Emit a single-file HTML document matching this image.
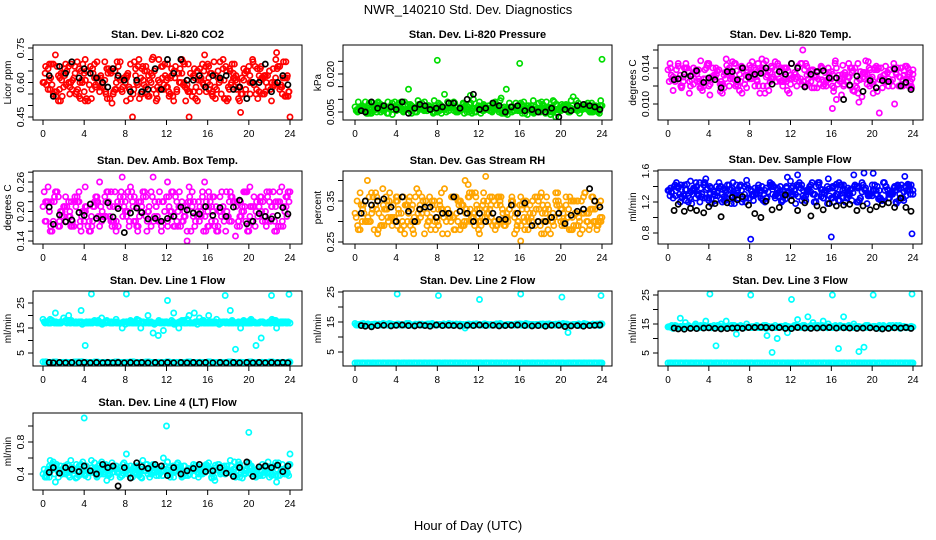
<!DOCTYPE html>
<html><head><meta charset="utf-8"><style>
body{margin:0;background:#fff;}
svg{display:block;font-family:"Liberation Sans",sans-serif;}
</style></head><body>
<svg id="chart" width="936" height="540" viewBox="0 0 936 540" xmlns="http://www.w3.org/2000/svg">
<text x="468" y="14" text-anchor="middle" font-size="13">NWR_140210  Std. Dev. Diagnostics</text>
<text x="468" y="530" text-anchor="middle" font-size="13">Hour of Day (UTC)</text>
</svg>
<script>
const hrsA=[0,0.5,1,1.5,2,2.5,3,3.5,4,4.5,5,5.5,6,6.5,7,7.5,8,8.5,9,9.5,10,10.5,11,11.5,12,12.5,13,13.5,14,14.5,15,15.5,16,16.5,17,17.5,18,18.5,19,19.5,20,20.5,21,21.5,22,22.5,23,23.5,24];
const hrsB=[0.2,0.7,1.2,1.7,2.2,2.7,3.2,3.7,4.1,4.7,5.2,5.7,6.2,6.7,7.2,7.7,8.1,8.7,9.2,9.7,10.2,10.7,11.2,11.7,12.1,12.7,13.2,13.7,14.2,14.7,15.2,15.7,16.1,16.7,17.2,17.7,18.2,18.7,19.2,19.7,20.1,20.7,21.2,21.7,22.2,22.7,23.2,23.7,23.9];
const hrsK=[0.6,1.0,1.6,2.2,2.8,3.5,4.0,4.6,5.2,5.8,6.3,6.8,7.3,7.9,8.5,9.1,9.6,10.2,10.9,11.5,12.1,12.7,13.4,14.0,14.6,15.2,15.8,16.5,17.2,17.8,18.5,19.1,19.8,20.4,21.0,21.6,22.2,22.8,23.3,23.8];

const co2A=[0.60,0.66,0.55,0.63,0.58,0.67,0.62,0.54,0.64,0.59,0.68,0.56,0.61,0.65,0.57,0.69,0.60,0.53,0.66,0.62,0.58,0.64,0.55,0.67,0.61,0.63,0.57,0.70,0.59,0.54,0.65,0.60,0.68,0.56,0.62,0.66,0.58,0.64,0.53,0.61,0.67,0.59,0.63,0.55,0.65,0.60,0.57,0.62,0.45];
const co2B=[0.64,0.57,0.72,0.52,0.68,0.60,0.55,0.65,0.70,0.53,0.62,0.58,0.66,0.51,0.69,0.56,0.63,0.44,0.59,0.67,0.54,0.71,0.61,0.57,0.68,0.52,0.64,0.60,0.44,0.66,0.56,0.72,0.62,0.58,0.69,0.53,0.65,0.61,0.47,0.57,0.63,0.55,0.67,0.60,0.52,0.73,0.58,0.62,0.56];
const co2K=[0.63,0.54,0.67,0.64,0.69,0.62,0.66,0.64,0.62,0.60,0.58,0.66,0.63,0.61,0.56,0.61,0.56,0.57,0.66,0.57,0.70,0.64,0.70,0.61,0.61,0.63,0.58,0.63,0.62,0.63,0.57,0.58,0.53,0.60,0.60,0.68,0.56,0.60,0.63,0.59];

const presA=[0.0070,0.0055,0.0060,0.0045,0.0080,0.0050,0.0065,0.0075,0.0055,0.0090,0.0060,0.0045,0.0070,0.0085,0.0055,0.0065,0.0254,0.0060,0.0090,0.0070,0.0050,0.0080,0.0060,0.0100,0.0075,0.0055,0.0065,0.0085,0.0050,0.0070,0.0060,0.0055,0.0242,0.0045,0.0065,0.0050,0.0060,0.0045,0.0040,0.0030,0.0055,0.0080,0.0065,0.0095,0.0060,0.0075,0.0050,0.0060,0.0258];
const presB=[0.0060,0.0075,0.0045,0.0085,0.0065,0.0055,0.0090,0.0060,0.0070,0.0050,0.0140,0.0065,0.0080,0.0055,0.0075,0.0095,0.0060,0.0120,0.0070,0.0085,0.0060,0.0075,0.0115,0.0065,0.0090,0.0070,0.0060,0.0080,0.0105,0.0140,0.0070,0.0060,0.0060,0.0075,0.0050,0.0065,0.0055,0.0070,0.0050,0.0045,0.0065,0.0075,0.0110,0.0085,0.0070,0.0065,0.0060,0.0055,0.0075];
const presK=[0.0055,0.0050,0.0090,0.0065,0.0075,0.0070,0.0060,0.0090,0.0045,0.0065,0.0080,0.0075,0.0060,0.0065,0.0070,0.0085,0.0085,0.0065,0.0100,0.0120,0.0060,0.0065,0.0085,0.0075,0.0050,0.0070,0.0075,0.0055,0.0060,0.0050,0.0050,0.0065,0.0030,0.0060,0.0055,0.0075,0.0080,0.0075,0.0070,0.0060];

const tempA=[0.0138,0.0130,0.0142,0.0125,0.0135,0.0140,0.0128,0.0120,0.0145,0.0132,0.0138,0.0118,0.0140,0.0127,0.0133,0.0122,0.0143,0.0130,0.0137,0.0112,0.0135,0.0147,0.0125,0.0140,0.0132,0.0128,0.0145,0.0120,0.0137,0.0130,0.0142,0.0125,0.0128,0.0105,0.0110,0.0125,0.0135,0.0118,0.0108,0.0122,0.0130,0.0114,0.0128,0.0135,0.0120,0.0140,0.0127,0.0133,0.0138];
const tempB=[0.0145,0.0125,0.0132,0.0140,0.0120,0.0136,0.0148,0.0128,0.0110,0.0140,0.0125,0.0150,0.0133,0.0122,0.0142,0.0118,0.0135,0.0127,0.0150,0.0120,0.0140,0.0133,0.0125,0.0115,0.0145,0.0130,0.0160,0.0122,0.0138,0.0128,0.0120,0.0140,0.0095,0.0132,0.0120,0.0145,0.0115,0.0102,0.0128,0.0140,0.0112,0.0090,0.0125,0.0138,0.0100,0.0130,0.0122,0.0135,0.0128];
const tempK=[0.0127,0.0128,0.0133,0.0131,0.0137,0.0124,0.0129,0.0127,0.0118,0.0136,0.0136,0.0127,0.0140,0.0130,0.0133,0.0134,0.0140,0.0122,0.0136,0.0133,0.0145,0.0140,0.0119,0.0133,0.0136,0.0137,0.0129,0.0129,0.0105,0.0121,0.0131,0.0114,0.0126,0.0118,0.0126,0.0125,0.0139,0.0120,0.0124,0.0116];

const ambA=[0.21,0.25,0.18,0.23,0.19,0.22,0.17,0.24,0.20,0.18,0.22,0.26,0.19,0.21,0.17,0.23,0.20,0.25,0.18,0.22,0.19,0.24,0.21,0.17,0.23,0.20,0.18,0.22,0.14,0.21,0.19,0.24,0.20,0.23,0.17,0.21,0.19,0.22,0.18,0.20,0.16,0.23,0.21,0.19,0.24,0.18,0.22,0.20,0.24];
const ambB=[0.18,0.16,0.24,0.20,0.23,0.17,0.21,0.16,0.25,0.19,0.22,0.18,0.24,0.17,0.21,0.27,0.19,0.22,0.16,0.24,0.20,0.27,0.18,0.22,0.26,0.17,0.21,0.19,0.25,0.22,0.18,0.26,0.21,0.17,0.23,0.19,0.24,0.15,0.22,0.18,0.25,0.20,0.23,0.17,0.21,0.16,0.25,0.19,0.22];
const ambK=[0.209,0.174,0.193,0.179,0.183,0.198,0.192,0.215,0.186,0.184,0.218,0.189,0.206,0.157,0.197,0.207,0.198,0.185,0.186,0.180,0.186,0.190,0.209,0.203,0.197,0.195,0.210,0.192,0.208,0.190,0.209,0.223,0.175,0.180,0.196,0.190,0.185,0.192,0.208,0.195];

const rhA=[0.32,0.28,0.35,0.30,0.37,0.29,0.33,0.31,0.36,0.28,0.34,0.30,0.38,0.32,0.29,0.35,0.31,0.33,0.27,0.36,0.30,0.34,0.39,0.31,0.28,0.35,0.32,0.30,0.36,0.29,0.33,0.31,0.34,0.30,0.32,0.36,0.29,0.33,0.31,0.35,0.30,0.34,0.28,0.32,0.35,0.30,0.33,0.29,0.31];
const rhB=[0.35,0.30,0.40,0.33,0.27,0.38,0.31,0.34,0.29,0.36,0.32,0.27,0.37,0.33,0.30,0.35,0.29,0.38,0.32,0.36,0.28,0.40,0.33,0.37,0.30,0.41,0.34,0.29,0.36,0.31,0.35,0.28,0.25,0.33,0.30,0.36,0.32,0.34,0.30,0.37,0.33,0.31,0.35,0.29,0.36,0.32,0.30,0.34,0.30];
const rhK=[0.32,0.35,0.34,0.35,0.355,0.335,0.30,0.36,0.325,0.30,0.33,0.335,0.335,0.31,0.32,0.32,0.36,0.325,0.32,0.30,0.32,0.30,0.32,0.305,0.305,0.34,0.32,0.345,0.29,0.30,0.30,0.31,0.32,0.295,0.315,0.325,0.33,0.38,0.35,0.335];

const sfA=[1.35,1.25,1.40,1.30,1.20,1.38,1.28,1.42,1.22,1.33,1.45,1.27,1.36,1.18,1.40,1.30,1.25,1.38,1.32,1.20,1.42,1.28,1.35,1.24,1.47,1.30,1.38,1.22,1.33,1.40,1.27,1.35,0.75,1.30,1.42,1.25,1.37,1.20,1.45,1.32,1.28,1.40,1.22,1.36,1.30,1.42,1.25,1.35,1.30];
const sfB=[1.28,1.42,1.20,1.36,1.47,1.25,1.38,1.50,1.30,1.22,1.40,1.33,1.18,1.42,1.35,1.48,0.72,1.32,1.40,1.25,1.43,1.35,1.30,1.52,1.38,1.55,1.28,1.36,1.30,1.45,1.25,1.50,1.38,1.22,1.42,1.30,1.55,1.40,1.60,1.28,1.57,1.35,1.45,1.25,1.40,1.30,1.53,1.35,0.79];
const sfK=[1.09,1.17,1.08,1.12,1.09,1.06,1.14,1.18,1.01,1.19,1.26,1.23,1.27,1.16,1.05,1.00,1.21,1.10,1.13,1.29,1.22,1.09,1.19,1.02,1.15,1.10,1.18,1.15,1.16,1.17,1.09,1.15,1.10,1.14,1.17,1.19,1.13,1.25,1.13,1.08];

const l1A=[18.5,17,17.5,17,19,20,17,17.5,17,17.5,18,17,17.5,17,17.5,17,16.5,17.5,17,15,17,17.5,17,17,17.5,17,17,18,17,17,16.5,17.5,17,17,17,17.5,17,17,17.5,17,17,17.5,17,17,17.5,17,17,17.5,17];
const l1B=[17,18.5,21,17.5,18,17,17.5,22,8,29,17.5,19,18,17,17.5,15,29,17.5,18,17,20,13,12,14,26,21,15,18,20,21,19,17,20,17.5,17.5,28,22,6.5,15,17,17.5,8,11,17,28,15,17.5,17,28.5];
const l1Low=[1.5,1.2,1.4,1.2,1.3,1.2,1.4,1.5,1.3,1.2,1.4,1.2,1.3,1.2,1.4,1.2,1.3,1.5,1.2,1.3,1.4,1.2,1.3,1.2,1.4,1.2,1.3,1.2,1.4,1.2,1.3,1.2,1.4,1.2,1.3,1.2,1.4,1.2,1.3,1.2,1.4,1.2,1.3,1.2,1.4,1.2,1.3,1.2,1.4];
const l1K=[1.2,1.1,1.2,1.1,1.2,1.1,1.2,1.1,1.2,1.1,1.2,1.1,1.2,1.1,1.2,1.1,1.2,1.1,1.2,1.1,1.2,1.1,1.2,1.1,1.2,1.1,1.2,1.1,1.2,1.1,1.2,1.1,1.2,1.1,1.2,1.1,1.2,1.1,1.2,1.1];

const l2A=[14.5,14,14.2,13.8,14.3,14,14.2,14.4,14,14.2,14.5,14,14.1,14.3,14,14.5,14,14.2,14,14.3,14,14.2,14.1,14.3,14,14.2,14,14.1,14.3,14,14.2,14,14.4,14,14.2,14,14.3,14,14.2,14,14.1,14.3,14,14.2,14,14.3,14,14.2,14.4];
const l2B=[14,14.3,14,14.2,14,14.4,14,14.2,24.8,14,14.2,14,14.3,14,14.2,14,23.8,14,14.2,14,14.3,13,14.2,14,22.5,14,14.2,14,14.3,14,14.2,14,24.5,14,14.2,14,14.3,14,14.2,14,23.3,11.5,14.2,14,14.3,14,14.2,14,23.8];
const l2Low=[1.2,1.1,1.3,1.1,1.2,1.1,1.3,1.1,1.2,1.1,1.3,1.1,1.2,1.1,1.3,1.1,1.2,1.1,1.3,1.1,1.2,1.1,1.3,1.1,1.2,1.1,1.3,1.1,1.2,1.1,1.3,1.1,1.2,1.1,1.3,1.1,1.2,1.1,1.3,1.1,1.2,1.1,1.3,1.1,1.2,1.1,1.3,1.1,1.2];
const l2K=[13.8,13.6,13.4,13.8,13.9,13.7,13.9,14.0,13.8,13.7,14.0,13.8,13.6,14.0,13.8,13.9,13.8,13.7,13.9,13.8,14.0,13.8,13.9,13.7,13.8,13.9,14.0,13.8,13.7,13.8,13.6,13.9,13.9,13.5,13.7,13.8,13.6,13.8,13.9,14.0];

const l3A=[14,13.5,14,13.8,14.2,14,13.7,14.2,14,13.8,14.3,13.8,14,13.7,14.1,13.8,14,14.2,13.8,14.1,14,13.8,14.2,13.8,14,14.1,13.8,14,14.2,13.8,14,14.1,13.8,14,14.2,13.8,14.1,14,13.8,14.2,14,13.8,14.1,14,13.8,14.2,14,13.8,14];
const l3B=[14,14.5,17,15.5,14,15,14.5,16,25.5,7.5,15,16,14.5,11.5,14,15,25,14.5,14,11,5.2,10,14,12,23.5,16.5,14.5,17.5,15.5,14.5,16,15,25,6.5,17.5,14.5,15,5.5,7,14,25,14.5,14,14.5,14,14.5,14,14,25.5];
const l3Low=[1.1,1.2,1.0,1.2,1.1,1.2,1.0,1.2,1.1,1.2,1.0,1.2,1.1,1.2,1.0,1.2,1.1,1.2,1.0,1.2,1.1,1.2,1.0,1.2,1.1,1.2,1.0,1.2,1.1,1.2,1.0,1.2,1.1,1.2,1.0,1.2,1.1,1.2,1.0,1.2,1.1,1.2,1.0,1.2,1.1,1.2,1.0,1.2,1.1];
const l3K=[13.6,13.3,13.2,13.5,13.4,13.6,13.7,13.5,13.3,13.4,13.6,13.7,13.5,13.8,13.8,13.9,13.8,13.7,13.8,13.5,13.4,13.8,13.6,13.5,13.6,13.7,13.8,13.6,13.7,13.6,13.5,13.6,13.7,13.4,13.3,13.5,13.7,13.6,13.8,13.5];

const l4A=[0.40,0.46,0.52,0.42,0.48,0.38,0.45,0.50,1.10,0.42,0.47,0.52,0.40,0.45,0.48,0.36,0.44,0.50,0.42,0.46,0.52,0.40,0.47,0.43,1.00,0.45,0.49,0.38,0.44,0.48,0.42,0.46,0.50,0.40,0.45,0.48,0.42,0.46,0.51,0.40,0.92,0.44,0.48,0.42,0.46,0.50,0.38,0.45,0.65];
const l4B=[0.36,0.57,0.30,0.50,0.40,0.57,0.35,0.52,0.44,0.57,0.38,0.55,0.32,0.54,0.42,0.38,0.65,0.36,0.50,0.57,0.40,0.52,0.44,0.60,0.55,0.36,0.44,0.50,0.40,0.38,0.48,0.42,0.54,0.32,0.47,0.40,0.57,0.36,0.48,0.41,0.50,0.36,0.44,0.50,0.38,0.30,0.46,0.40,0.52];
const l4K=[0.42,0.48,0.41,0.48,0.46,0.43,0.50,0.44,0.40,0.52,0.48,0.50,0.25,0.48,0.35,0.54,0.49,0.47,0.52,0.50,0.38,0.48,0.40,0.44,0.47,0.52,0.43,0.44,0.48,0.41,0.37,0.48,0.55,0.37,0.49,0.50,0.48,0.51,0.43,0.50];

const panels=[
 {id:'co2',title:'Stan. Dev. Li-820 CO2',ylab:'Licor ppm',box:[33,45,302,120],x0:43,x24:290,v1:0.45,p1:117,v2:0.75,p2:48,ticks:[0.45,0.50,0.55,0.60,0.65,0.70,0.75],labels:['0.45','0.60','0.75'],col:'#ff0000',series:[co2A,co2B],low:null,black:co2K,core:[0.52,0.70]},
 {id:'pressure',title:'Stan. Dev. Li-820 Pressure',ylab:'kPa',box:[343,45,612,120],x0:355,x24:602,v1:0.005,p1:112,v2:0.020,p2:74,ticks:[0.005,0.010,0.015,0.020,0.025],labels:['0.005','0.020'],col:'#00dd00',series:[presA,presB],low:null,black:presK,core:[0.0035,0.0095]},
 {id:'temp',title:'Stan. Dev. Li-820 Temp.',ylab:'degrees C',box:[658,45,923,120],x0:668,x24:913,v1:0.010,p1:104,v2:0.014,p2:68,ticks:[0.010,0.012,0.014,0.016],labels:['0.010','0.014'],col:'#ff00ff',series:[tempA,tempB],low:null,black:tempK,core:[0.0112,0.0148]},
 {id:'ambbox',title:'Stan. Dev. Amb. Box Temp.',ylab:'degrees C',box:[33,171,302,244],x0:43,x24:290,v1:0.14,p1:241,v2:0.26,p2:182,ticks:[0.14,0.16,0.18,0.20,0.22,0.24,0.26,0.28],labels:['0.14','0.20','0.26'],col:'#ff00ff',series:[ambA,ambB],low:null,black:ambK,core:[0.16,0.24]},
 {id:'rh',title:'Stan. Dev. Gas Stream RH',ylab:'percent',box:[343,171,612,244],x0:355,x24:602,v1:0.25,p1:242,v2:0.35,p2:201,ticks:[0.25,0.30,0.35,0.40],labels:['0.25','0.35'],col:'#ffa500',series:[rhA,rhB],low:null,black:rhK,core:[0.27,0.37]},
 {id:'sampleflow',title:'Stan. Dev. Sample Flow',ylab:'ml/min',box:[658,170,922,244],x0:668,x24:913,v1:0.8,p1:233,v2:1.6,p2:171,ticks:[0.8,1.0,1.2,1.4,1.6],labels:['0.8','1.2','1.6'],col:'#0000ff',series:[sfA,sfB],low:null,black:sfK,core:[1.15,1.45]},
 {id:'line1',title:'Stan. Dev. Line 1 Flow',ylab:'ml/min',box:[33,291,302,366],x0:43,x24:290,v1:5,p1:353,v2:25,p2:303,ticks:[5,10,15,20,25],labels:['5','15','25'],col:'#00ffff',series:[l1A,l1B],low:l1Low,black:l1K,core:[16,18.5]},
 {id:'line2',title:'Stan. Dev. Line 2 Flow',ylab:'ml/min',box:[343,291,612,366],x0:355,x24:602,v1:5,p1:352,v2:25,p2:292,ticks:[5,10,15,20,25],labels:['5','15','25'],col:'#00ffff',series:[l2A,l2B],low:l2Low,black:l2K,core:[13.5,14.6]},
 {id:'line3',title:'Stan. Dev. Line 3 Flow',ylab:'ml/min',box:[658,291,922,366],x0:668,x24:913,v1:5,p1:353,v2:25,p2:295,ticks:[5,10,15,20,25],labels:['5','15','25'],col:'#00ffff',series:[l3A,l3B],low:l3Low,black:l3K,core:[13.3,14.8]},
 {id:'line4',title:'Stan. Dev. Line 4 (LT) Flow',ylab:'ml/min',box:[33,413,302,490],x0:43,x24:290,v1:0.4,p1:474,v2:0.8,p2:442,ticks:[0.4,0.6,0.8,1.0],labels:['0.4','0.8'],col:'#00ffff',series:[l4A,l4B],low:null,black:l4K,core:[0.34,0.55]}
];
const xTicks=[0,4,8,12,16,20,24];
const NS='http://www.w3.org/2000/svg';
const svg=document.getElementById('chart');
function mk(tag,attrs,parent){const e=document.createElementNS(NS,tag);for(const k in attrs)e.setAttribute(k,attrs[k]);parent.appendChild(e);return e;}
panels.forEach(p=>{
  const g=mk('g',{},svg);
  
  
  const [L,T,R,B]=p.box;
  const xs=h=>p.x0+(h/24)*(p.x24-p.x0);
  const ys=v=>p.p1+(v-p.v1)*(p.p2-p.p1)/(p.v2-p.v1);
  const inside=v=>{const y=ys(v);return Math.max(T+3,Math.min(B-3,y));};
  const t=mk('text',{x:(L+R)/2,y:T-7,'text-anchor':'middle','font-size':'11','font-weight':'bold'},g);
  t.textContent=p.title;
  
  
  const pts=mk('g',{fill:'none','stroke-width':'1.7'},g);
  
  
  function plot(hrs,vals,col,coreOnly){hrs.forEach((h,i)=>{
    const v=vals[i%vals.length];
    if(v===undefined||h===undefined||h>24)return;
    if(coreOnly&&(v<p.core[0]||v>p.core[1]))return;
    const c=mk('circle',{cx:xs(h).toFixed(1),cy:inside(v).toFixed(1),r:'2.6',stroke:col},pts);
    
    
  });}
  const A=p.series[0],Bs=p.series[1];
  plot(hrsA,A,p.col,false);
  plot(hrsB,Bs,p.col,false);
  // extra cloud passes: re-use the read core-band values at neighbouring times
  [[hrsA,0.25,5,A],[hrsB,0.12,9,A],[hrsA,0.37,17,Bs],[hrsB,0.3,23,Bs],[hrsA,0.12,31,A],[hrsB,0.4,37,Bs]].forEach(([hs,dt,rot,src])=>{
    plot(hs.map(h=>h+dt),hs.map((h,i)=>src[(i+rot)%src.length]),p.col,true);
  });
  if(p.low){
    plot(hrsA,p.low,p.col,false);plot(hrsB,p.low,p.col,false);
    plot(hrsA.map(h=>h+0.25),p.low,p.col,false);
    plot(hrsB.map(h=>h+0.12),p.low,p.col,false);
  }
  plot(hrsK,p.black,'#000',false);
  const box=mk('rect',{x:L,y:T,width:R-L,height:B-T,fill:'none',stroke:'#000','stroke-width':'1'},g);
  
  
  const xa=mk('g',{stroke:'#000'},g);
  
  
  mk('line',{x1:xs(0),x2:xs(24),y1:B,y2:B},xa);
  xTicks.forEach(h=>{
    mk('line',{x1:xs(h),x2:xs(h),y1:B,y2:B+5},xa);
    const tx=mk('text',{x:xs(h),y:B+17,'text-anchor':'middle','font-size':'10',stroke:'none',fill:'#000'},xa);
    tx.textContent=h;
    
    
  });
  const ya=mk('g',{stroke:'#000'},g);
  
  
  mk('line',{x1:L,x2:L,y1:ys(p.ticks[0]),y2:ys(p.ticks[p.ticks.length-1])},ya);
  p.ticks.forEach(v=>{mk('line',{x1:L-5,x2:L,y1:ys(v),y2:ys(v)},ya);});
  p.labels.forEach(lb=>{
    const y=ys(parseFloat(lb));
    const tx=mk('text',{x:L-9,y:y,'text-anchor':'middle','font-size':'10.5',stroke:'none',fill:'#000',transform:`rotate(-90 ${L-9} ${y})`},ya);
    tx.textContent=lb;
    
    
  });
  const yl=mk('text',{x:L-22,y:(T+B)/2,'text-anchor':'middle','font-size':'10',transform:`rotate(-90 ${L-22} ${(T+B)/2})`},g);
  yl.textContent=p.ylab;
  
  
});
</script>
</body></html>
